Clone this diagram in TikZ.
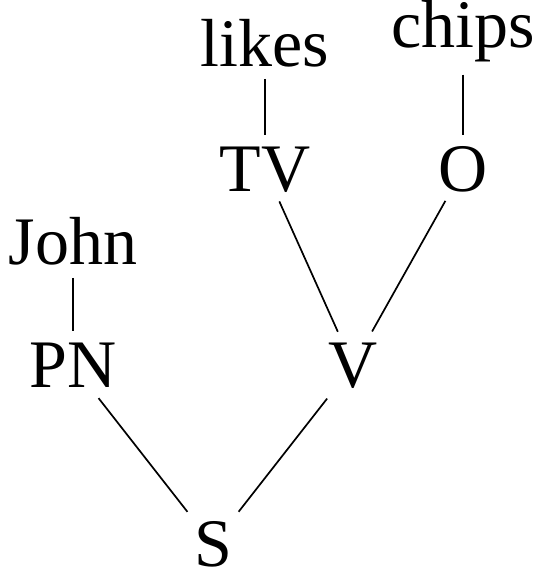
\documentclass[tikz,border=0pt]{standalone}
\usepackage{fontspec}
\setmainfont{Liberation Serif}
\begin{document}
\begin{tikzpicture}[x=1pt,y=1pt,
  word/.style={inner sep=0pt, anchor=base, font=\fontsize{68}{80}\selectfont},
  cat/.style={inner sep=0pt, anchor=base, text height=45pt, text depth=0pt, font=\fontsize{68}{80}\selectfont},
  edge/.style={line width=1.7pt}]
\useasboundingbox (0,0) rectangle (540,573);
\node[word] (likes) at (265,506) {likes};
\node[word] (chips) at (463,525) {chips};
\node[word] (john) at (73,308) {John};
\node[cat] (tv) at (265,381) {TV};
\node[cat] (o) at (463,381) {O};
\node[cat] (pn) at (73,185) {PN};
\node[cat] (v) at (353,185) {V};
\node[cat] (s) at (213,6) {S};
\draw[edge, shorten <=11pt, shorten >=34.5pt] (likes.south) -- (tv.center);
\draw[edge, shorten <=12pt, shorten >=34.5pt] (chips.south) -- (o.center);
\draw[edge, shorten <=12pt, shorten >=34pt] (john.south) -- (pn.center);
\draw[edge, shorten <=35pt, shorten >=37pt] (tv.center) -- (v.center);
\draw[edge, shorten <=36pt, shorten >=39pt] (o.center) -- (v.center);
\draw[edge, shorten <=41.5pt, shorten >=41.5pt] (pn.center) -- (s.center);
\draw[edge, shorten <=42pt, shorten >=41.6pt] (v.center) -- (s.center);
\end{tikzpicture}
\end{document}
